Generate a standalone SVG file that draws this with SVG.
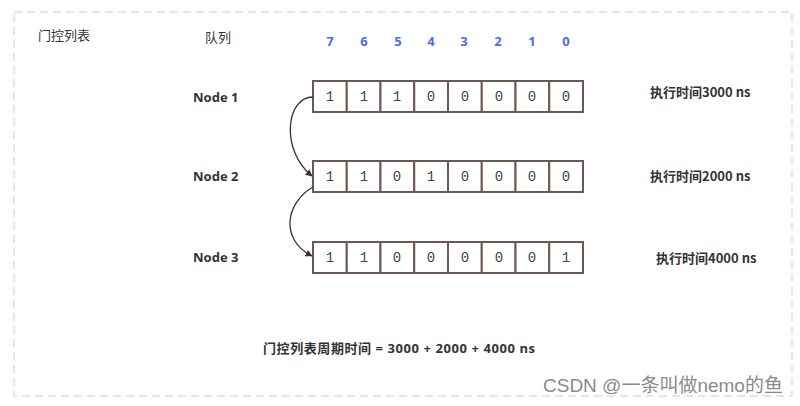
<svg xmlns="http://www.w3.org/2000/svg" width="800" height="406" viewBox="0 0 800 406">
<style>
.bg{fill:#fff}
.frame{fill:none;stroke:#f9d4d4;stroke-width:1.5;stroke-dasharray:8 5}
.t{font-family:"Noto Sans CJK SC","Noto Sans",sans-serif;fill:#333;font-size:13px}
.b{font-weight:bold}
.s{font-family:"Open Sans","Noto Sans CJK SC",sans-serif;font-weight:bold;font-size:13px;fill:#333}
.lbl{font-family:"Noto Sans","Noto Sans CJK SC",sans-serif;font-weight:bold;font-size:13px;fill:#333}
.idx{font-family:"Noto Sans","Noto Sans CJK SC",sans-serif;font-weight:bold;font-size:13px;fill:#4a6fe3;text-anchor:middle}
.cell{fill:#fff;stroke:#6e5651;stroke-width:2}
.v{font-family:"Liberation Mono","DejaVu Sans Mono",monospace;font-size:14px;fill:#444;text-anchor:middle}
.conn{fill:none;stroke:#333;stroke-width:1.3}
.wm{font-family:"Liberation Sans","Noto Sans CJK SC",sans-serif;font-size:19px;fill:#8a8a8a}
</style>
<defs>
<marker id="ah" viewBox="0 0 10 10" refX="9" refY="5" markerWidth="7" markerHeight="7" markerUnits="userSpaceOnUse" orient="auto">
<path d="M0,0 L10,5 L0,10 z" fill="#333"/>
</marker>
<g id="cells">
<rect class="cell" x="0" y="0" width="33.75" height="31"/>
<rect class="cell" x="33.75" y="0" width="33.75" height="31"/>
<rect class="cell" x="67.5" y="0" width="33.75" height="31"/>
<rect class="cell" x="101.25" y="0" width="33.75" height="31"/>
<rect class="cell" x="135" y="0" width="33.75" height="31"/>
<rect class="cell" x="168.75" y="0" width="33.75" height="31"/>
<rect class="cell" x="202.5" y="0" width="33.75" height="31"/>
<rect class="cell" x="236.25" y="0" width="33.75" height="31"/>
</g>
</defs>
<rect class="bg" x="0" y="0" width="800" height="406"/>
<rect class="frame" x="14" y="12" width="778" height="384"/>

<g id="title">
<text class="t" x="38" y="40">门控列表</text>
<text class="t" x="205" y="42">队列</text>
</g>

<g id="indices">
<text class="idx" x="330" y="46">7</text>
<text class="idx" x="364" y="46">6</text>
<text class="idx" x="398" y="46">5</text>
<text class="idx" x="431" y="46">4</text>
<text class="idx" x="464" y="46">3</text>
<text class="idx" x="498" y="46">2</text>
<text class="idx" x="532" y="46">1</text>
<text class="idx" x="566" y="46">0</text>
</g>

<g id="node1">
<text class="lbl" x="193" y="102">Node 1</text>
<use href="#cells" x="313" y="81"/>
<g transform="translate(313,101)">
<text class="v" x="17" y="0">1</text><text class="v" x="51" y="0">1</text><text class="v" x="84" y="0">1</text><text class="v" x="118" y="0">0</text><text class="v" x="152" y="0">0</text><text class="v" x="186" y="0">0</text><text class="v" x="219" y="0">0</text><text class="v" x="253" y="0">0</text>
</g>
<text class="t b" x="650" y="97">执行时间3000 ns</text>
</g>

<g id="node2">
<text class="lbl" x="193" y="181">Node 2</text>
<use href="#cells" x="313" y="161"/>
<g transform="translate(313,181)">
<text class="v" x="17" y="0">1</text><text class="v" x="51" y="0">1</text><text class="v" x="84" y="0">0</text><text class="v" x="118" y="0">1</text><text class="v" x="152" y="0">0</text><text class="v" x="186" y="0">0</text><text class="v" x="219" y="0">0</text><text class="v" x="253" y="0">0</text>
</g>
<text class="t b" x="650" y="181">执行时间2000 ns</text>
</g>

<g id="node3">
<text class="lbl" x="193" y="262">Node 3</text>
<use href="#cells" x="313" y="242"/>
<g transform="translate(313,262)">
<text class="v" x="17" y="0">1</text><text class="v" x="51" y="0">1</text><text class="v" x="84" y="0">0</text><text class="v" x="118" y="0">0</text><text class="v" x="152" y="0">0</text><text class="v" x="186" y="0">0</text><text class="v" x="219" y="0">0</text><text class="v" x="253" y="0">1</text>
</g>
<text class="t b" x="656" y="263">执行时间4000 ns</text>
</g>

<g id="connectors">
<path class="conn" marker-end="url(#ah)" d="M313,97 C286,97 280,150 312,176"/>
<path class="conn" marker-end="url(#ah)" d="M313,187 C285,203 280,240 312,256"/>
</g>

<g id="summary">
<text class="s" x="263" y="353" textLength="272" lengthAdjust="spacing">门控列表周期时间 = 3000 + 2000 + 4000 ns</text>
</g>

<text class="wm" x="543" y="392">CSDN @一条叫做nemo的鱼</text>
</svg>
